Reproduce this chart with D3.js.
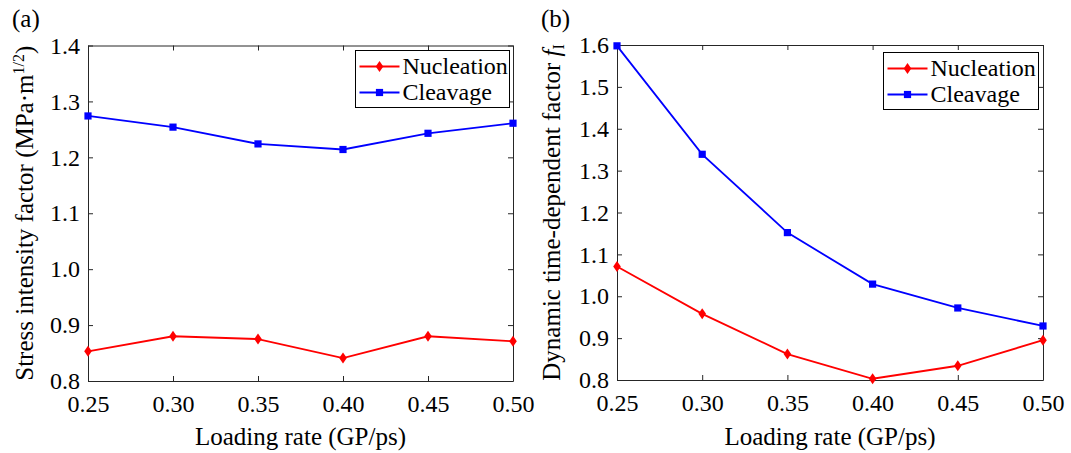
<!DOCTYPE html>
<html>
<head>
<meta charset="utf-8">
<script src="https://cdn.jsdelivr.net/npm/d3@7"></script>
<style>
  body { margin: 0; background: #fff; }
</style>
</head>
<body>
<svg id="chart" width="1071" height="453" font-family="Liberation Serif, Times New Roman, serif"></svg>
<script>
// data
const rates = [0.25, 0.30, 0.35, 0.40, 0.45, 0.50];
const xTicks = [0.25, 0.30, 0.35, 0.40, 0.45, 0.50];

// panel (a): stress intensity factor
const sifNucleation = [0.853, 0.880, 0.875, 0.841, 0.880, 0.871];
const sifCleavage   = [1.274, 1.254, 1.224, 1.214, 1.243, 1.261];
const sifTicks = [0.8, 0.9, 1.0, 1.1, 1.2, 1.3, 1.4];

// panel (b): dynamic time-dependent factor
const dynNucleation = [1.071, 0.958, 0.862, 0.803, 0.834, 0.895];
const dynCleavage   = [1.598, 1.339, 1.152, 1.029, 0.972, 0.929];
const dynTicks = [0.8, 0.9, 1.0, 1.1, 1.2, 1.3, 1.4, 1.5, 1.6];

const seriesNames = ["Nucleation", "Cleavage"];
const seriesColors = ["#ff0000", "#0000ff"];

const FONT = "Liberation Serif, Times New Roman, serif";
const DIAMOND = "M0,-5.5L3.8,0L0,5.5L-3.8,0Z";
const SQUARE = "M-3.6,-3.6H3.6V3.6H-3.6Z";

const svg = d3.select("#chart");

function drawPanel(opt) {
    const x = d3.scaleLinear().domain([0.25, 0.50]).range([opt.left, opt.right]);
    const y = d3.scaleLinear().domain(opt.yDomain).range([opt.bottom, opt.top]);
    const g = svg.append("g");

    // axes with inward ticks on all four sides (box on)
    const fmt2 = d3.format(".2f"), fmt1 = d3.format(".1f");
    const axes = [];
    axes.push(g.append("g").attr("transform", "translate(0," + opt.bottom + ")")
        .call(d3.axisBottom(x).tickValues(xTicks).tickFormat(fmt2)
              .tickSizeInner(-5).tickSizeOuter(0).tickPadding(14)));
    axes.push(g.append("g").attr("transform", "translate(0," + opt.top + ")")
        .call(d3.axisTop(x).tickValues(xTicks).tickFormat("")
              .tickSizeInner(-5).tickSizeOuter(0)));
    axes.push(g.append("g").attr("transform", "translate(" + opt.left + ",0)")
        .call(d3.axisLeft(y).tickValues(opt.yTicks).tickFormat(fmt1)
              .tickSizeInner(-5).tickSizeOuter(0).tickPadding(8)));
    axes.push(g.append("g").attr("transform", "translate(" + opt.right + ",0)")
        .call(d3.axisRight(y).tickValues(opt.yTicks).tickFormat("")
              .tickSizeInner(-5).tickSizeOuter(0)));
    axes.forEach(a => a.attr("font-family", FONT).attr("font-size", 24));
    g.selectAll(".domain, .tick line").attr("stroke", "#262626").attr("stroke-width", 1);
    g.selectAll(".tick text").attr("fill", "#000");

    // series
    const line = d3.line().x((d, i) => x(rates[i])).y(d => y(d));
    opt.series.forEach((vals, k) => {
        g.append("path").datum(vals)
            .attr("fill", "none").attr("stroke", seriesColors[k])
            .attr("stroke-width", 1.8).attr("d", line);
        g.selectAll(null).data(vals).enter().append("path")
            .attr("transform", (d, i) => "translate(" + x(rates[i]) + "," + y(d) + ")")
            .attr("d", k === 0 ? DIAMOND : SQUARE)
            .attr("fill", seriesColors[k]);
    });

    // axis titles
    g.append("text").attr("x", (opt.left + opt.right) / 2).attr("y", 445)
        .attr("text-anchor", "middle").attr("font-size", 25)
        .text("Loading rate (GP/ps)");
    const yl = g.append("text")
        .attr("transform", "translate(" + opt.yLabelX + "," + (opt.top + opt.bottom) / 2 + ") rotate(-90)")
        .attr("text-anchor", "middle").attr("font-size", 25);
    opt.yLabel(yl);

    // panel tag
    g.append("text").attr("x", opt.tagX).attr("y", 27).attr("font-size", 25).text(opt.tag);

    // legend
    const lg = g.append("g").attr("transform", "translate(" + opt.legX + "," + opt.legY + ")");
    lg.append("rect").attr("width", opt.legW).attr("height", 57)
        .attr("fill", "#fff").attr("stroke", "#000").attr("stroke-width", 1);
    seriesNames.forEach((name, k) => {
        const cy = 16 + k * 26;
        lg.append("line").attr("x1", 4).attr("x2", 44).attr("y1", cy).attr("y2", cy)
            .attr("stroke", seriesColors[k]).attr("stroke-width", 1.8);
        lg.append("path").attr("transform", "translate(24," + cy + ")")
            .attr("d", k === 0 ? DIAMOND : SQUARE)
            .attr("fill", seriesColors[k]);
        lg.append("text").attr("x", 47).attr("y", cy).attr("dy", "0.33em")
            .attr("font-size", 24).text(name);
    });
}

drawPanel({
    left: 88, right: 513, top: 45.5, bottom: 381,
    yDomain: [0.8, 1.4], yTicks: sifTicks,
    series: [sifNucleation, sifCleavage],
    yLabelX: 33, tag: "(a)", tagX: 12,
    legX: 355.5, legY: 50.5, legW: 154,
    yLabel: t => {
        t.append("tspan").text("Stress intensity factor (MPa\u00b7m");
        t.append("tspan").attr("dy", -9).attr("font-size", 16).text("1/2");
        t.append("tspan").attr("dy", 9).text(")");
    }
});

drawPanel({
    left: 617, right: 1043, top: 45, bottom: 380,
    yDomain: [0.8, 1.6], yTicks: dynTicks,
    series: [dynNucleation, dynCleavage],
    yLabelX: 560, tag: "(b)", tagX: 541,
    legX: 883.5, legY: 52.5, legW: 155,
    yLabel: t => {
        t.append("tspan").text("Dynamic time-dependent factor ");
        t.append("tspan").attr("font-style", "italic").text("f");
        t.append("tspan").attr("dy", 4).attr("font-size", 16).text("I");
    }
});
</script>
</body>
</html>
